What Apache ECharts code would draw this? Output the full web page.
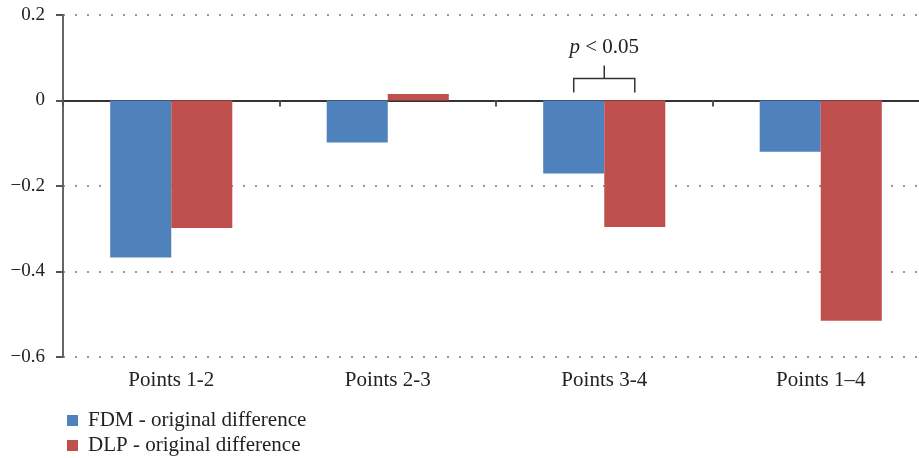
<!DOCTYPE html>
<html>
<head>
<meta charset="utf-8">
<script src="https://cdn.jsdelivr.net/npm/echarts@6/dist/echarts.min.js"></script>
<style>
  html, body { margin: 0; padding: 0; background: #fff; }
  #chart { width: 919px; height: 458px; }
</style>
</head>
<body>
<div id="chart"></div>
<script>
(function () {
    const categories = ['Points 1-2', 'Points 2-3', 'Points 3-4', 'Points 1\u20134'];
    const fdmValues = [-0.367, -0.098, -0.171, -0.12];
    const dlpValues = [-0.298, 0.015, -0.296, -0.515];
    const seriesNames = ['FDM - original difference', 'DLP - original difference'];
    // significance bracket: category index, value of the base line
    const bracketData = [[2, 0]];

    const font = 'Liberation Serif';
    const barWidthRatio = 0.282;

    function legendFor(name, top) {
        return {
            left: 62,
            top: top,
            icon: 'rect',
            itemWidth: 11,
            itemHeight: 11,
            textStyle: { fontFamily: font, fontSize: 21, color: '#222', padding: [0, 0, 0, 5] },
            data: [name]
        };
    }

    const option = {
        animation: false,
        textStyle: { fontFamily: font },
        grid: { left: 63, width: 866, top: 15, bottom: 101, outerBoundsMode: 'none' },
        legend: [
            legendFor(seriesNames[0], 405),
            legendFor(seriesNames[1], 430)
        ],
        xAxis: [
            {
                type: 'category',
                data: categories,
                axisLine: { show: false, onZero: false },
                axisTick: { show: false },
                axisLabel: { fontFamily: font, fontSize: 21, color: '#222', margin: 13 }
            },
            {
                type: 'category',
                data: categories,
                position: 'bottom',
                axisLine: { onZero: true, lineStyle: { color: '#333', width: 2 } },
                axisTick: { show: true, length: 6, lineStyle: { color: '#555', width: 2 } },
                axisLabel: { show: false }
            }
        ],
        yAxis: {
            type: 'value',
            min: -0.6,
            max: 0.2,
            interval: 0.2,
            axisLine: { show: true, lineStyle: { color: '#666', width: 2 } },
            axisTick: { show: true, length: 7, lineStyle: { color: '#555', width: 2 } },
            axisLabel: {
                fontFamily: font,
                fontSize: 19,
                color: '#222',
                margin: 18,
                formatter: function (v) {
                    const r = Math.round(v * 10) / 10;
                    if (r === 0) return '0';
                    return String(r).replace('-', '\u2212');
                }
            },
            splitLine: {
                show: true,
                lineStyle: { color: '#999', width: 2, type: [2, 10] }
            }
        },
        series: [
            {
                name: seriesNames[0],
                type: 'bar',
                data: fdmValues,
                barWidth: (barWidthRatio * 100) + '%',
                barGap: '0%',
                itemStyle: { color: '#4F81BD' }
            },
            {
                name: seriesNames[1],
                type: 'bar',
                data: dlpValues,
                barWidth: (barWidthRatio * 100) + '%',
                barGap: '0%',
                itemStyle: { color: '#C0504D' }
            },
            {
                type: 'custom',
                silent: true,
                z: 10,
                data: bracketData,
                renderItem: function (params, api) {
                    const c = api.coord([api.value(0), api.value(1)]);
                    const band = api.size([1, 0])[0];
                    const off = band * barWidthRatio / 2;
                    const cx = c[0], y = c[1];
                    const style = { stroke: '#333', lineWidth: 1.5, fill: null };
                    return {
                        type: 'group',
                        children: [
                            {
                                type: 'polyline',
                                shape: { points: [[cx - off, y - 8], [cx - off, y - 22], [cx + off, y - 22], [cx + off, y - 8]] },
                                style: style
                            },
                            {
                                type: 'line',
                                shape: { x1: cx, y1: y - 22, x2: cx, y2: y - 35 },
                                style: style
                            },
                            {
                                type: 'text',
                                x: cx,
                                y: y - 53,
                                style: {
                                    text: '{i|p} < 0.05',
                                    align: 'center',
                                    verticalAlign: 'middle',
                                    fontFamily: font,
                                    fontSize: 21,
                                    fill: '#222',
                                    rich: {
                                        i: { fontStyle: 'italic', fontFamily: font, fontSize: 21, fill: '#222' }
                                    }
                                }
                            }
                        ]
                    };
                }
            }
        ]
    };

    const myChart = echarts.init(document.getElementById('chart'));
    myChart.setOption(option);
}());
</script>
</body>
</html>
